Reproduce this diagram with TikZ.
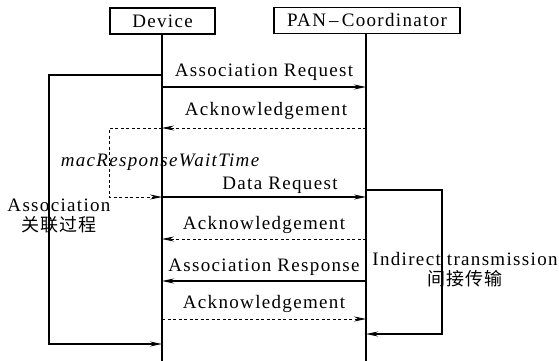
\documentclass[tikz,border=0pt]{standalone}
\usepackage{fontspec}
\setmainfont{Liberation Serif}[LetterSpace=7]
\newfontfamily\cjk{Noto Sans CJK SC}[LetterSpace=4]
\usetikzlibrary{arrows.meta}
\begin{document}
\begin{tikzpicture}[x=1pt,y=-1pt,
  every node/.style={font=\fontsize{19}{21}\selectfont},
  actor/.style={draw,line width=1.2pt,minimum height=26pt,inner sep=0pt},
  msg/.style={line width=1.3pt,-{Stealth[length=12pt,width=5pt]}},
  ack/.style={line width=0.8pt,dash pattern=on 3pt off 2.5pt,-{Stealth[length=12pt,width=5pt]}},
  lbl/.style={anchor=base,inner sep=0pt},
  life/.style={line width=1.2pt}]
\useasboundingbox (0,0) rectangle (559,361);
\node[actor,minimum width=105pt] (dev) at (162.5,21) {Device};
\node[actor,minimum width=186pt] (pan) at (367,20.5) {PAN\,--\,Coordinator};
\coordinate (devend) at (162,361);
\coordinate (panend) at (366,361);
\draw[life] (162,34) -- (devend);
\draw[life] (366,33) -- (panend);
% messages
\coordinate (d1) at (162,87); \coordinate (p1) at (366,87);
\coordinate (d2) at (162,128); \coordinate (p2) at (366,128);
\coordinate (d3) at (162,197); \coordinate (p3) at (366,197);
\coordinate (d4) at (162,239); \coordinate (p4) at (366,239);
\coordinate (d5) at (162,281); \coordinate (p5) at (366,281);
\coordinate (d6) at (162,319); \coordinate (p6) at (366,319);
\draw[msg] (d1) -- (p1);
\draw[ack] (p2) -- (d2);
\draw[msg] (d3) -- (p3);
\draw[ack] (p4) -- (d4);
\draw[msg] (p5) -- (d5);
\draw[ack] (d6) -- (p6);
\node[lbl] (l1) at (264,76) {Association Request};
\node[lbl] (l2) at (266,115) {Acknowledgement};
\node[lbl] (l3) at (280,189) {Data Request};
\node[lbl] (l4) at (264,229) {Acknowledgement};
\node[lbl] (l5) at (264,271) {Association Response};
\node[lbl] (l6) at (264,308) {Acknowledgement};
% wait time loop
\draw[ack] (d2) -- (109,128) -- (109,197) -- (d3);
\node[lbl,font=\fontsize{19}{21}\selectfont\itshape] (mac) at (160,166) {macResponseWaitTime};
% association bracket
\coordinate (a0) at (162,75); \coordinate (a1) at (162,344);
\draw[msg] (a0) -- (49,75) -- (49,344) -- (a1);
\node[lbl] (as1) at (59,211) {Association};
\node[lbl,font=\fontsize{18}{20}\selectfont\cjk] (as2) at (59,231) {关联过程};
% indirect bracket
\coordinate (b0) at (366,190); \coordinate (b1) at (366,334);
\draw[msg] (b0) -- (442,190) -- (442,334) -- (b1);
\node[lbl] (it1) at (465,265) {Indirect transmission};
\node[lbl,font=\fontsize{18}{20}\selectfont\cjk] (it2) at (465,285) {间接传输};
\end{tikzpicture}
\end{document}
